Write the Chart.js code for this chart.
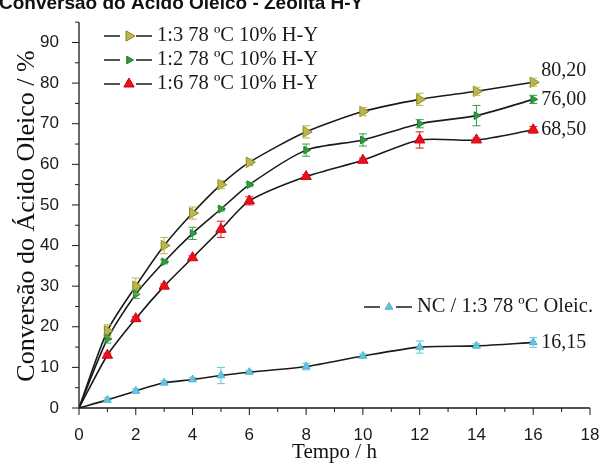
<!DOCTYPE html>
<html><head><meta charset="utf-8">
<script src="https://cdn.jsdelivr.net/npm/chart.js@4.4.1/dist/chart.umd.min.js"></script>
<style>html,body{margin:0;padding:0;background:#fff}#wrap{width:601px;height:464px}</style>
</head><body><div id="wrap"><canvas id="c" width="601" height="464"></canvas></div>
<script>
const chartTitle = "Conversão do Ácido Oleico - Zeólita H-Y";
const xTitle = "Tempo / h";
const yTitle = "Conversão do Ácido Oleico / %";
const times = [0, 1, 2, 3, 4, 5, 6, 8, 10, 12, 14, 16];
const s13 = [0, 19, 30, 40, 48, 55, 60.5, 68, 73, 76, 78, 80.2];
const s12 = [0, 17, 28, 36, 43, 49, 55, 63.5, 66, 70, 72, 76];
const s16 = [0, 13, 22, 30, 37, 44, 51, 57, 61, 66, 66, 68.5];
const sNC = [0, 2, 4.2, 6.2, 7, 8, 8.8, 10.2, 12.8, 15, 15.3, 16.15];
const e13 = [0, 1.5, 2, 2, 1.5, 1, 0.8, 1.5, 1, 1.5, 1, 1];
const e12 = [0, 1, 1, 0.5, 1.5, 0.5, 0.5, 1.5, 1.5, 1, 2.5, 1];
const e16 = [0, 0.5, 0.5, 0.5, 0.5, 2, 1, 0.5, 0.5, 2, 0.5, 0.8];
const eNC = [0, 0.5, 0.5, 0.5, 0.5, 2, 0.5, 0.8, 0.5, 1.5, 0.5, 1.2];
const labels = ["1:3 78 ºC 10% H-Y", "1:2 78 ºC 10% H-Y", "1:6 78 ºC 10% H-Y", "NC / 1:3 78 ºC Oleic."];
const endLabels = ["80,20", "76,00", "68,50", "16,15"];
const xTicks = [0, 2, 4, 6, 8, 10, 12, 14, 16, 18];
const xMinor = [1, 3, 5, 7, 9, 11, 13, 15, 17];
const yTicks = [0, 10, 20, 30, 40, 50, 60, 70, 80, 90];
const yMinor = [5, 15, 25, 35, 45, 55, 65, 75, 85, 95];

const colors = ['#bdb64a', '#2f9e3f', '#e8121c', '#62c6dc'];
const borders = ['#8c8628', '#1f7a2c', '#d00010', '#4ab0c8'];
const styles = [
  {r: 6, rot: 90}, {r: 4.5, rot: 90}, {r: 6, rot: 0}, {r: 4.5, rot: 0}
];
const series = [s13, s12, s16, sNC];
const errs = [e13, e12, e16, eNC];

const datasets = series.map((s, i) => ({
  label: labels[i],
  data: times.map((t, j) => ({x: t, y: s[j]})),
  borderColor: '#1a1a1a',
  borderWidth: 1.6,
  tension: 0.25,
  pointStyle: 'triangle',
  pointRotation: styles[i].rot,
  pointRadius: times.map(t => t === 0 ? 1.5 : styles[i].r),
  pointBackgroundColor: colors[i],
  pointBorderColor: borders[i],
  pointBorderWidth: 1,
  errors: errs[i]
}));

const SERIF = '"Liberation Serif", "Times New Roman", serif';
const SANS = '"Liberation Sans", Arial, sans-serif';

function drawMarker(ctx, i, x, y) {
  Chart.helpers.drawPoint(ctx, {pointStyle: 'triangle', rotation: styles[i].rot, radius: styles[i].r, borderWidth: 1}, x, y);
}

const custom = {
  id: 'custom',
  afterDatasetsDraw(chart) {
    const ctx = chart.ctx;
    const xs = chart.scales.x, ys = chart.scales.y;
    chart.data.datasets.forEach((ds, i) => {
      ctx.save();
      ctx.strokeStyle = colors[i];
      ctx.lineWidth = 1;
      ds.data.forEach((p, j) => {
        const e = ds.errors[j];
        if (!e) return;
        const px = xs.getPixelForValue(p.x);
        const y1 = ys.getPixelForValue(p.y + e), y2 = ys.getPixelForValue(p.y - e);
        ctx.beginPath();
        ctx.moveTo(px, y1); ctx.lineTo(px, y2);
        ctx.moveTo(px - 4, y1); ctx.lineTo(px + 4, y1);
        ctx.moveTo(px - 4, y2); ctx.lineTo(px + 4, y2);
        ctx.stroke();
      });
      ctx.restore();
    });
  },
  afterDraw(chart) {
    const ctx = chart.ctx;
    const xs = chart.scales.x, ys = chart.scales.y;
    const ca = chart.chartArea;
    ctx.save();
    ctx.strokeStyle = '#1a1a1a';
    ctx.lineWidth = 1.3;
    ctx.beginPath();
    ctx.moveTo(ca.left, ys.getPixelForValue(95)); ctx.lineTo(ca.left, ca.bottom); ctx.lineTo(xs.getPixelForValue(18), ca.bottom);
    ctx.stroke();
    ctx.lineWidth = 1;
    ctx.beginPath();
    xTicks.forEach(v => { const p = xs.getPixelForValue(v); ctx.moveTo(p, ca.bottom); ctx.lineTo(p, ca.bottom + 7); });
    xMinor.forEach(v => { const p = xs.getPixelForValue(v); ctx.moveTo(p, ca.bottom); ctx.lineTo(p, ca.bottom + 4); });
    yTicks.forEach(v => { const p = ys.getPixelForValue(v); ctx.moveTo(ca.left, p); ctx.lineTo(ca.left - 7, p); });
    yMinor.forEach(v => { const p = ys.getPixelForValue(v); ctx.moveTo(ca.left, p); ctx.lineTo(ca.left - 4, p); });
    ctx.stroke();

    ctx.fillStyle = '#111';
    ctx.font = 'bold 19px ' + SANS;
    ctx.textAlign = 'left';
    ctx.textBaseline = 'alphabetic';
    ctx.fillText(chartTitle, -1, 9);

    ctx.font = '21px ' + SERIF;
    ctx.textAlign = 'center';
    ctx.textBaseline = 'middle';
    ctx.fillText(xTitle, (ca.left + xs.getPixelForValue(18)) / 2, 452);
    ctx.save();
    ctx.translate(27, 216);
    ctx.rotate(-Math.PI / 2);
    ctx.font = '26px ' + SERIF;
    ctx.fillText(yTitle, 0, 0);
    ctx.restore();

    ctx.font = '20.5px ' + SERIF;
    ctx.textAlign = 'left';
    ctx.textBaseline = 'middle';
    const rows = [[0, 104, 36], [1, 104, 60], [2, 104, 84], [3, 364, 307]];
    rows.forEach(([i, x0, y]) => {
      ctx.strokeStyle = '#1a1a1a';
      ctx.lineWidth = 1.6;
      ctx.beginPath();
      ctx.moveTo(x0, y); ctx.lineTo(x0 + 16, y);
      ctx.moveTo(x0 + 32, y); ctx.lineTo(x0 + 48, y);
      ctx.stroke();
      ctx.fillStyle = colors[i];
      ctx.strokeStyle = borders[i];
      ctx.lineWidth = 1;
      drawMarker(ctx, i, x0 + 25, y);
      ctx.fillStyle = '#1a1a1a';
      ctx.fillText(labels[i], x0 + 53, y);
    });

    ctx.font = '20px ' + SERIF;
    series.forEach((s, i) => {
      const last = s.length - 1;
      const px = xs.getPixelForValue(times[last]) + 8;
      let py = ys.getPixelForValue(s[last]);
      if (i === 0) py -= 12;
      ctx.fillText(endLabels[i], px, py);
    });
    ctx.restore();
  }
};

new Chart(document.getElementById('c'), {
  type: 'line',
  data: {datasets},
  options: {
    responsive: false,
    animation: false,
    layout: {padding: {left: 0, top: 12, right: 0, bottom: 0}},
    plugins: {legend: {display: false}, tooltip: {enabled: false}, title: {display: false}},
    scales: {
      x: {
        type: 'linear', min: 0, max: 18,
        afterBuildTicks: s => { s.ticks = xTicks.map(v => ({value: v})); },
        afterFit: s => { s.height = 56; s.paddingRight = 11; },
        grid: {display: false},
        border: {display: false},
        ticks: {font: {family: SANS, size: 17}, color: '#1a1a1a', padding: 9, maxRotation: 0}
      },
      y: {
        type: 'linear', min: 0, max: 95,
        afterBuildTicks: s => { s.ticks = yTicks.map(v => ({value: v})); },
        afterFit: s => { s.width = 79; },
        grid: {display: false},
        border: {display: false},
        ticks: {font: {family: SANS, size: 17}, color: '#1a1a1a', padding: 12}
      }
    }
  },
  plugins: [custom]
});
</script>
</body></html>
